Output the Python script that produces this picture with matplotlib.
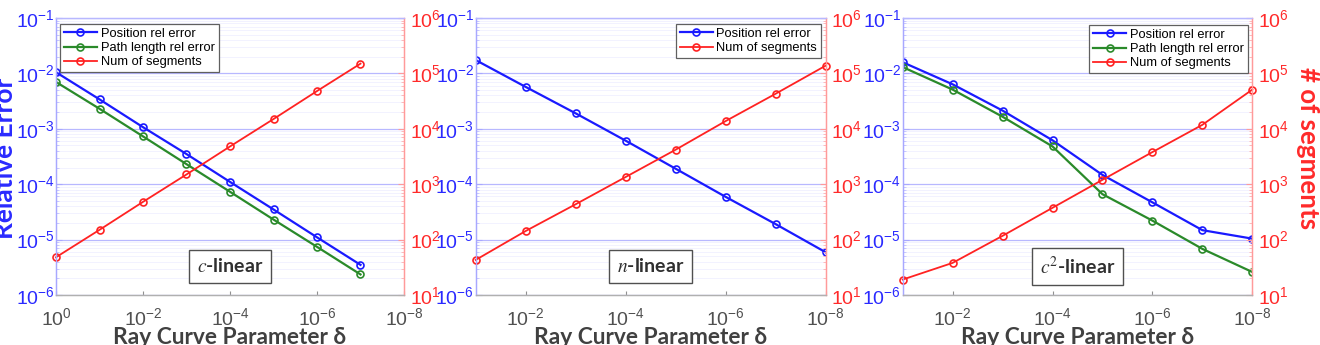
import matplotlib
matplotlib.use("Agg")
import matplotlib.pyplot as plt
from matplotlib.ticker import LogLocator, NullFormatter, NullLocator
from matplotlib.patches import Rectangle

plt.rcParams['font.family'] = ['Liberation Sans', 'DejaVu Sans']
plt.rcParams['mathtext.fontset'] = 'custom'
plt.rcParams['mathtext.rm'] = 'Liberation Sans'
plt.rcParams['mathtext.it'] = 'Liberation Sans:italic'
plt.rcParams['mathtext.bf'] = 'Liberation Sans:bold'

# ---------------- data ----------------
delta_c = [1e0, 1e-1, 1e-2, 1e-3, 1e-4, 1e-5, 1e-6, 1e-7]
pos_c = [1.05e-2, 3.4e-3, 1.07e-3, 3.5e-4, 1.1e-4, 3.5e-5, 1.1e-5, 3.5e-6]
path_c = [7.0e-3, 2.3e-3, 7.3e-4, 2.3e-4, 7.3e-5, 2.3e-5, 7.4e-6, 2.35e-6]
seg_c = [48, 150, 480, 1500, 4800, 15000, 48000, 150000]

delta_n = [1e-1, 1e-2, 1e-3, 1e-4, 1e-5, 1e-6, 1e-7, 1e-8]
pos_n = [1.74e-2, 5.7e-3, 1.9e-3, 6.1e-4, 1.9e-4, 5.9e-5, 1.9e-5, 5.9e-6]
seg_n = [43, 143, 435, 1350, 4200, 13800, 43000, 138000]

delta_c2 = [1e-1, 1e-2, 1e-3, 1e-4, 1e-5, 1e-6, 1e-7, 1e-8]
pos_c2 = [1.59e-2, 6.35e-3, 2.13e-3, 6.2e-4, 1.47e-4, 4.7e-5, 1.48e-5, 1.04e-5]
path_c2 = [1.3e-2, 5.1e-3, 1.65e-3, 4.8e-4, 6.6e-5, 2.2e-5, 6.8e-6, 2.6e-6]
seg_c2 = [19, 38, 117, 375, 1200, 3800, 11800, 51000]

panel_titles = [r'$c$', r'$n$', r'$c^2$']
xtick_sets = [[1e0, 1e-2, 1e-4, 1e-6, 1e-8], [1e-2, 1e-4, 1e-6, 1e-8], [1e-2, 1e-4, 1e-6, 1e-8]]
xlims = [(1e0, 1e-8), (1e-1, 1e-8), (1e-1, 1e-8)]

lbl_pos = 'Position rel error'
lbl_path = 'Path length rel error'
lbl_seg = 'Num of segments'

BLUE = '#1a1aff'
GREEN = '#2a8a2a'
RED = '#ff2222'
TICKBLUE = '#2a2aff'
TICKRED = '#ff2a2a'

W, H = 1320, 345
fig = plt.figure(figsize=(W / 100, H / 100), dpi=100)

# axes pixel boxes: (left, right)
boxes = [(56, 404), (475.7, 825.7), (902.7, 1252.3)]
top_px, bot_px = 18, 295

series = [
    (delta_c, pos_c, path_c, seg_c),
    (delta_n, pos_n, None, seg_n),
    (delta_c2, pos_c2, path_c2, seg_c2),
]
legend_anchor = [((60 - 56) / 348, 0.978, 'upper left'),
                 (0.9866, 0.978, 'upper right'),
                 (0.9877, 0.975, 'upper right')]

for i, ((l, r), (d, pos, path, seg)) in enumerate(zip(boxes, series)):
    ax = fig.add_axes([l / W, (H - bot_px) / H, (r - l) / W, (bot_px - top_px) / H])
    ax2 = ax.twinx()
    ax.set_zorder(i)
    ax2.set_zorder(i + 0.1)

    handles = []
    h1, = ax.plot(d, pos, '-o', color=BLUE, lw=1.6, ms=5, mfc='none', mew=1.2, label=lbl_pos)
    handles.append(h1)
    if path is not None:
        h2, = ax.plot(d, path, '-o', color=GREEN, lw=1.6, ms=5, mfc='none', mew=1.2, label=lbl_path)
        handles.append(h2)
    h3, = ax2.plot(d, seg, '-o', color=RED, lw=1.3, ms=5, mfc='none', mew=1.2, label=lbl_seg, clip_on=False)
    handles.append(h3)

    for a in (ax, ax2):
        a.set_xscale('log')
        a.set_yscale('log')
    ax.set_xlim(*xlims[i])
    ax.set_ylim(1e-6, 1e-1)
    ax2.set_ylim(1e1, 1e6)
    ax.set_xticks(xtick_sets[i])
    ax.xaxis.set_minor_locator(NullLocator())
    for a in (ax, ax2):
        a.yaxis.set_major_locator(LogLocator(base=10, numticks=20))
        a.yaxis.set_minor_locator(LogLocator(base=10, subs=range(2, 10), numticks=100))
        a.yaxis.set_minor_formatter(NullFormatter())

    ax.set_axisbelow(True)
    ax.grid(which='major', axis='y', color='#b8b8ff', lw=0.9)
    ax.grid(which='minor', axis='y', color='#f0f0ff', lw=0.6)

    for a in (ax, ax2):
        a.spines['left'].set_color('#a8a8ff')
        a.spines['top'].set_color('#b8b8ff')
        a.spines['right'].set_color('#ff9a9a')
        a.spines['bottom'].set_color('#b0b0b0')
        for s in a.spines.values():
            s.set_linewidth(0.9)

    ax.tick_params(axis='y', which='major', direction='in', length=4, color='#a8a8ff',
                   labelcolor=TICKBLUE, labelsize=14, pad=1)
    ax.tick_params(axis='y', which='minor', direction='in', length=2, color='#c0c0ff')
    ax2.tick_params(axis='y', which='major', direction='in', length=4, color='#ff9a9a',
                    labelcolor=TICKRED, labelsize=14, pad=4)
    ax2.tick_params(axis='y', which='minor', direction='in', length=2, color='#ffb0b0')
    ax.tick_params(axis='x', which='major', direction='in', length=3, color='#909090',
                   labelcolor='#505050', labelsize=14, pad=9)

    bx, by, loc = legend_anchor[i]
    leg = ax2.legend(handles=handles, loc=loc, bbox_to_anchor=(bx, by), borderaxespad=0,
                     fontsize=9.3, handlelength=2.55, labelspacing=0.17, handletextpad=0.3,
                     borderpad=0.3, fancybox=False, framealpha=1, edgecolor='#606060')
    leg.get_frame().set_linewidth(0.9)

    ax2.text(0.5, 0.103, panel_titles[i] + '-linear', transform=ax2.transAxes,
             ha='center', va='center', fontsize=14, fontweight='bold', family='Lato',
             color='#303030', math_fontfamily='stix',
             bbox=dict(boxstyle='square,pad=0.4', fc='white', ec='#505050', lw=1.0))

    cx = (l + r) / 2 / W
    fig.text(cx, 0.0015, 'Ray Curve Parameter δ', ha='center', va='baseline',
             fontsize=16.4, fontweight='bold', family=['Lato', 'DejaVu Sans'], color='#404040',
             zorder=i + 0.2)

# white masks imitating cropped panel images
fig.add_artist(Rectangle((440 / W, 0), (862 - 440) / W, 1, transform=fig.transFigure,
                         facecolor='white', edgecolor='none', zorder=0.5))
fig.add_artist(Rectangle((862 / W, 0), (W - 862) / W, 1, transform=fig.transFigure,
                         facecolor='white', edgecolor='none', zorder=1.5))

fig.text(12.7 / W, (H - 158) / H, 'Relative Error', rotation=90, rotation_mode='anchor',
         ha='center', va='baseline', fontsize=19, fontweight='bold', family='Lato',
         color=TICKBLUE, zorder=10)
fig.text(1300 / W, (H - 148) / H, '# of segments', rotation=270, rotation_mode='anchor',
         ha='center', va='baseline', fontsize=18.6, fontweight='bold', family='Lato',
         color=TICKRED, zorder=10)

fig.savefig('out.png', dpi=100)
